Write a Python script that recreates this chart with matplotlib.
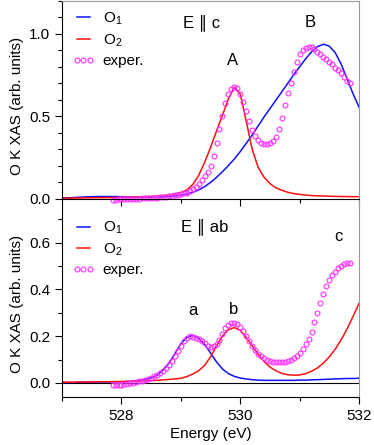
import numpy as np
import matplotlib
matplotlib.use("Agg")
import matplotlib.pyplot as plt
from matplotlib.ticker import MultipleLocator

plt.rcParams['font.family'] = ['Liberation Sans', 'DejaVu Sans']
plt.rcParams['mathtext.fontset'] = 'custom'
plt.rcParams['mathtext.rm'] = 'Liberation Sans'
plt.rcParams['mathtext.it'] = 'Liberation Sans'

## calculated curves (0.1 eV grid)
curve_e = np.round(np.arange(527.0, 532.01, 0.1), 1)

c_O1 = [0.002, 0.004, 0.006, 0.008, 0.010, 0.011, 0.012, 0.012, 0.012, 0.012,
        0.011, 0.010, 0.009, 0.008, 0.008, 0.008, 0.009, 0.010, 0.013, 0.016,
        0.021, 0.027, 0.037, 0.052, 0.072, 0.098, 0.128, 0.163, 0.200, 0.240,
        0.285, 0.335, 0.385, 0.440, 0.495, 0.546, 0.597, 0.648, 0.700, 0.752,
        0.800, 0.848, 0.890, 0.922, 0.937, 0.925, 0.885, 0.815, 0.725, 0.635,
        0.555]
c_O2 = [0.002, 0.002, 0.003, 0.003, 0.004, 0.004, 0.005, 0.005, 0.006, 0.006,
        0.007, 0.008, 0.009, 0.010, 0.011, 0.013, 0.015, 0.018, 0.022, 0.028,
        0.037, 0.052, 0.085, 0.140, 0.220, 0.310, 0.410, 0.505, 0.605, 0.675,
        0.635, 0.470, 0.300, 0.190, 0.130, 0.090, 0.065, 0.050, 0.038, 0.030,
        0.025, 0.021, 0.018, 0.016, 0.015, 0.014, 0.013, 0.012, 0.012, 0.011,
        0.011]
ab_O1 = [0.002, 0.002, 0.002, 0.003, 0.003, 0.003, 0.004, 0.004, 0.004, 0.005,
         0.005, 0.006, 0.008, 0.011, 0.015, 0.022, 0.033, 0.055, 0.085, 0.125,
         0.168, 0.195, 0.204, 0.192, 0.165, 0.128, 0.090, 0.060, 0.040, 0.028,
         0.021, 0.017, 0.014, 0.012, 0.011, 0.011, 0.011, 0.011, 0.011, 0.011,
         0.012, 0.012, 0.013, 0.014, 0.015, 0.016, 0.017, 0.018, 0.019, 0.019,
         0.020]
ab_O2 = [0.003, 0.003, 0.003, 0.004, 0.004, 0.004, 0.005, 0.005, 0.005, 0.006,
         0.006, 0.007, 0.007, 0.008, 0.009, 0.010, 0.011, 0.013, 0.015, 0.017,
         0.020, 0.027, 0.038, 0.052, 0.075, 0.112, 0.158, 0.200, 0.228, 0.237,
         0.225, 0.195, 0.160, 0.122, 0.092, 0.068, 0.052, 0.041, 0.035, 0.033,
         0.034, 0.040, 0.050, 0.064, 0.085, 0.112, 0.145, 0.185, 0.232, 0.285,
         0.340]

## experiment (0.05 eV grid)
exp_e = np.round(np.arange(527.85, 531.851, 0.05), 2)

exp_c = [-0.006, -0.006, -0.005, -0.005, -0.004, -0.004, -0.003, -0.002, -0.001, 0.000,
         0.001, 0.002, 0.003, 0.004, 0.005, 0.006, 0.007, 0.009, 0.011, 0.013,
         0.016, 0.019, 0.023, 0.027, 0.031, 0.036, 0.045, 0.057, 0.072, 0.088,
         0.110, 0.135, 0.160, 0.195, 0.260, 0.340, 0.420, 0.500, 0.580, 0.635,
         0.665, 0.675, 0.670, 0.635, 0.585, 0.530, 0.470, 0.415, 0.380, 0.355,
         0.340, 0.332, 0.330, 0.335, 0.350, 0.375, 0.420, 0.490, 0.570, 0.640,
         0.700, 0.770, 0.830, 0.875, 0.900, 0.915, 0.922, 0.920, 0.905, 0.890,
         0.875, 0.862, 0.848, 0.830, 0.815, 0.795, 0.778, 0.760, 0.735, 0.715,
         0.700]
exp_ab = [-0.010, -0.010, -0.009, -0.008, -0.006, -0.004, -0.002, 0.001, 0.004, 0.007,
          0.010, 0.014, 0.018, 0.023, 0.028, 0.035, 0.043, 0.052, 0.062, 0.077,
          0.095, 0.115, 0.135, 0.158, 0.178, 0.192, 0.199, 0.198, 0.193, 0.187,
          0.180, 0.170, 0.160, 0.154, 0.156, 0.166, 0.185, 0.210, 0.235, 0.250,
          0.258, 0.258, 0.252, 0.240, 0.222, 0.200, 0.180, 0.160, 0.140, 0.125,
          0.114, 0.105, 0.098, 0.094, 0.091, 0.089, 0.088, 0.089, 0.091, 0.094,
          0.099, 0.106, 0.116, 0.130, 0.145, 0.165, 0.190, 0.220, 0.260, 0.300,
          0.340, 0.380, 0.415, 0.440, 0.460, 0.475, 0.490, 0.500, 0.507, 0.512,
          0.514]

blue = '#1010ff'
red = '#ff1010'
mag = '#ff30ff'
gray = '0.6'
fs = 11

fig = plt.figure(figsize=(3.74, 4.45), dpi=100)
ax1 = fig.add_axes([0.166, 0.528, 0.794, 0.470])
ax2 = fig.add_axes([0.166, 0.108, 0.794, 0.420])

for ax, o1, o2, ex in [(ax1, c_O1, c_O2, exp_c), (ax2, ab_O1, ab_O2, exp_ab)]:
    ax.plot(curve_e, o1, color=blue, lw=1.1, label='O$_1$')
    ax.plot(curve_e, o2, color=red, lw=1.1, label='O$_2$')
    ax.plot(exp_e, ex, ls='none', marker='o', ms=3.5, mfc='none', mec=mag, mew=0.8,
            label='exper.')
    ax.set_xlim(527, 532)
    ax.xaxis.set_major_locator(MultipleLocator(2))
    ax.xaxis.set_minor_locator(MultipleLocator(1))
    ax.tick_params(which='both', direction='out', labelsize=fs)
    ax.tick_params(which='major', length=5, width=0.8)
    ax.tick_params(which='minor', length=3, width=0.8)
    ax.spines['right'].set_color(gray)
    ax.legend(loc='upper left', frameon=False, fontsize=11, numpoints=3,
              handlelength=1.5, handletextpad=0.5, labelspacing=0.35,
              borderaxespad=0.25, bbox_to_anchor=(0.0, 1.0))
    ax.set_ylabel('O K XAS (arb. units)', fontsize=fs, labelpad=4)

# top panel
ax1.set_ylim(-0.07, 1.2)
ax1.yaxis.set_major_locator(MultipleLocator(0.5))
ax1.yaxis.set_minor_locator(MultipleLocator(0.1))
ax1.yaxis.set_major_formatter(plt.FormatStrFormatter('%.1f'))
ax1.spines['bottom'].set_position(('data', 0))
ax1.spines['top'].set_color(gray)
ax1.tick_params(axis='x', labelbottom=False)
ax1.annotate('E \u2225 c', xy=(529.35, 1.065), fontsize=fs + 1, ha='center', va='center')
ax1.annotate('A', xy=(529.87, 0.84), fontsize=fs + 1, ha='center', va='center')
ax1.annotate('B', xy=(531.18, 1.07), fontsize=fs + 1, ha='center', va='center')

# bottom panel
ax2.set_ylim(-0.06, 0.74)
ax2.yaxis.set_major_locator(MultipleLocator(0.2))
ax2.yaxis.set_minor_locator(MultipleLocator(0.1))
ax2.yaxis.set_major_formatter(plt.FormatStrFormatter('%.1f'))
ax2.spines['top'].set_visible(False)
ax2.axhline(0, color='k', lw=0.8, zorder=0)
ax2.set_xlabel('Energy (eV)', fontsize=fs, labelpad=3)
ax2.annotate('E \u2225 ab', xy=(529.4, 0.67), fontsize=fs + 1, ha='center', va='center')
ax2.annotate('a', xy=(529.21, 0.31), fontsize=fs + 1, ha='center', va='center')
ax2.annotate('b', xy=(529.89, 0.315), fontsize=fs + 1, ha='center', va='center')
ax2.annotate('c', xy=(531.66, 0.625), fontsize=fs + 1, ha='center', va='center')

fig.savefig('out.png', dpi=100)
